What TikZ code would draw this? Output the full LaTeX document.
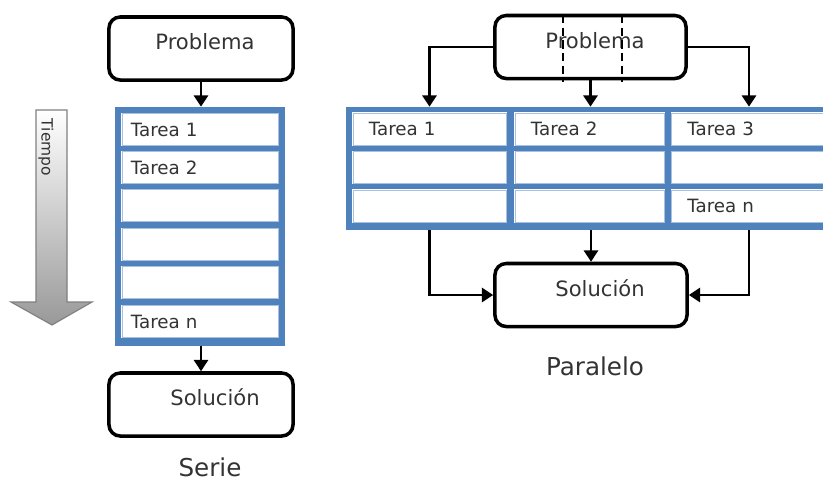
\documentclass[tikz,border=0pt]{standalone}
\usepackage{fontspec}
\setmainfont{DejaVu Sans}
\usetikzlibrary{arrows.meta}
\definecolor{stackblue}{HTML}{4F81BD}
\definecolor{cellline}{HTML}{A9C1E0}
\definecolor{txtgray}{HTML}{333333}
\tikzset{
  stepbox/.style={draw=black, line width=2.5pt, rounded corners=8pt, fill=white,
    minimum width=4.6cm, minimum height=1.575cm},
  frame/.style={fill=stackblue, inner sep=0pt},
  cell/.style={draw=cellline, line width=0.5pt, fill=white,
    preaction={draw=white, line width=1.3pt},
    minimum height=0.8cm, inner sep=0pt, text=txtgray,
    font=\fontsize{13}{15}\selectfont, align=left},
  boxtxt/.style={text=txtgray, font=\fontsize{15}{17}\selectfont},
  title/.style={text=txtgray, font=\fontsize{17.5}{20}\selectfont},
  flow/.style={line width=1.8pt, -{Triangle[width=10pt,length=8pt]}},
}
\begin{document}
\begin{tikzpicture}[x=0.025cm, y=-0.025cm]
  \clip (0,0) rectangle (823,481);
  \fill[white] (0,0) rectangle (823,481);

  % Serie
  \shadedraw[top color=white, bottom color=gray!80, draw=gray, line width=0.8pt]
    (36,110) -- (67,110) -- (67,302) -- (92,302) -- (52,325) -- (11,302) -- (36,302) -- cycle;
  \node[text=txtgray, font=\fontsize{11}{13}\selectfont, rotate=-90, anchor=west] (tiempo) at (46,114) {Tiempo};

  \node[stepbox] (sP) at (201,48.5) {};
  \node[boxtxt] (sP-t) at (205,42) {Problema};
  \node[frame, minimum width=4.25cm, minimum height=5.975cm] (sFrame) at (200,226.5) {};
  \foreach \i/\y/\t in {1/129.5/Tarea 1, 2/167.5/Tarea 2, 3/205.5/, 4/244.5/, 5/282.5/, 6/321.5/Tarea n}
    \node[cell, minimum width=3.9cm, text width=3.45cm] (s\i) at (200,\y) {\t};
  \node[stepbox] (sS) at (201,404.5) {};
  \node[boxtxt] (sS-t) at (215,397) {Solución};
  \node[title] (serie) at (210,467) {Serie};

  \draw[flow] (sP.south) -- (sP.south |- sFrame.north);
  \draw[flow] (sS.north |- sFrame.south) -- (sS.north);

  % Paralelo
  \node[stepbox, minimum width=4.775cm] (pP) at (590.5,47) {};
  \node[boxtxt] (pP-t) at (595,41) {Problema};
  \draw[line width=1.4pt, dash pattern=on 6pt off 3pt] (563,15) -- (563,82);
  \draw[line width=1.4pt, dash pattern=on 6pt off 3pt] (622,15) -- (622,82);
  \node[frame, minimum width=12.1cm, minimum height=3.075cm] (pFrame) at (588,168.5) {};
  \foreach \c/\x/\w/\ta/\tc in {1/429.5/3.825/Tarea 1/, 2/589.5/3.725/Tarea 2/, 3/749/3.875/Tarea 3/Tarea n} {
    \node[cell, minimum width=\w cm, text width=\w cm - 0.8cm] (p\c1) at (\x,129) {\ta};
    \node[cell, minimum width=\w cm, text width=\w cm - 0.8cm] (p\c2) at (\x,167.5) {};
    \node[cell, minimum width=\w cm, text width=\w cm - 0.8cm] (p\c3) at (\x,206) {\tc};
  }
  \node[stepbox, minimum width=4.8cm] (pS) at (591,295) {};
  \node[boxtxt] (pS-t) at (600,288) {Solución};
  \node[title] (paralelo) at (595,366) {Paralelo};

  \draw[flow] (pP.west) -| (p11.north |- pFrame.north);
  \draw[flow] (pP.south) -- (pP.south |- pFrame.north);
  \draw[flow] (pP.east) -| (p31.north |- pFrame.north);
  \draw[flow] (p13.south |- pFrame.south) |- (pS.west);
  \draw[flow] (pS.north |- pFrame.south) -- (pS.north);
  \draw[flow] (p33.south |- pFrame.south) |- (pS.east);
\end{tikzpicture}
\end{document}
